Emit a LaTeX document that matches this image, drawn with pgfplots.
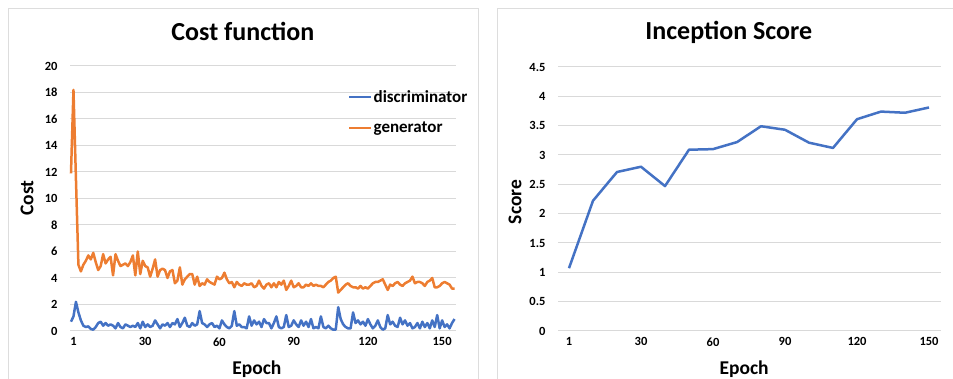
\documentclass[border=0pt]{standalone}
\usepackage{pgfplots}
\pgfplotsset{compat=1.18}
\usepackage{fontspec}
\setmainfont{Carlito}
\definecolor{xblue}{HTML}{4472C4}
\definecolor{xorange}{HTML}{ED7D31}
\definecolor{xgrid}{HTML}{D9D9D9}
\definecolor{xframe}{HTML}{DDDDDD}
\pgfplotsset{
  excel/.style={
    scale only axis,
    anchor=south west,
    axis line style={draw=none},
    major tick length=0pt,
    ymajorgrids,
    major grid style={xgrid, line width=1pt},
    /pgf/number format/assume math mode=true,
    ticklabel style={font=\fontsize{12.5}{14}\selectfont\bfseries},
    yticklabel style={xshift=-9pt},
    xticklabel style={yshift=-3pt},
    title style={font=\fontsize{26}{30}\selectfont\bfseries, anchor=center},
    label style={font=\fontsize{19.5}{22}\selectfont\bfseries},
    clip=false,
  }
}
\begin{document}
\begin{tikzpicture}[x=1pt,y=1pt]
\useasboundingbox (0,0) rectangle (953,379);
\draw[xframe, line width=1pt] (8,-10) -- (8,370) -- (478,370) -- (478,-10);
\draw[xframe, line width=1pt] (497,-10) -- (497,370) -- (975,370);
\begin{axis}[excel,
  at={(70pt,48pt)}, width=386pt, height=265pt,
  xmin=-0.4, xmax=155.6, ymin=0, ymax=20,
  ytick={0,2,...,20},
  xtick={1,30,60,90,120,150},
  title={Cost function},
  title style={at={(axis description cs:0.448,1.109)}},
  xlabel={Epoch},
  xlabel style={at={(axis description cs:0.484,-0.143)}, anchor=center},
  ylabel={Cost},
  ylabel style={at={(axis description cs:-0.111,0.502)}, anchor=center},
  legend style={at={(axis description cs:0.72,0.909)}, anchor=north west,
    draw=none, fill=none, font=\fontsize{17}{19}\selectfont\bfseries,
    row sep=18pt, inner sep=0pt, nodes={inner xsep=1pt, inner ysep=0pt}},
  legend cell align=left,
  legend image code/.code={\draw[#1, line width=2.5pt] (0pt,0pt) -- (22pt,0pt);},
]
\addplot[xblue, line width=2.5pt, line join=round] coordinates {
(0,0.7)(1,1.1)(2,2.2)(3,1.4)(4,0.8)(5,0.4)(6,0.3)(7,0.35)(8,0.15)(9,0.1)
(10,0.3)(11,0.6)(12,0.7)(13,0.4)(14,0.6)(15,0.4)(16,0.5)(17,0.4)(18,0.2)(19,0.6)
(20,0.3)(21,0.2)(22,0.5)(23,0.4)(24,0.3)(25,0.4)(26,0.3)(27,0.6)(28,0.2)(29,0.7)
(30,0.3)(31,0.5)(32,0.3)(33,0.4)(34,0.8)(35,0.5)(36,0.2)(37,0.5)(38,0.4)(39,0.6)
(40,0.3)(41,0.6)(42,0.5)(43,0.9)(44,0.3)(45,0.6)(46,1.0)(47,0.4)(48,0.3)(49,0.6)
(50,0.4)(51,0.5)(52,1.5)(53,0.6)(54,0.5)(55,0.3)(56,0.5)(57,0.6)(58,0.3)(59,0.4)
(60,0.2)(61,0.8)(62,0.5)(63,0.3)(64,0.2)(65,0.4)(66,1.5)(67,0.4)(68,0.5)(69,0.3)
(70,0.3)(71,0.2)(72,1.1)(73,0.4)(74,0.8)(75,0.5)(76,0.7)(77,0.3)(78,0.9)(79,0.6)
(80,0.6)(81,0.2)(82,0.6)(83,1.1)(84,0.3)(85,0.2)(86,0.3)(87,1.2)(88,0.3)(89,0.4)
(90,0.8)(91,0.5)(92,0.3)(93,0.8)(94,0.4)(95,0.7)(96,0.3)(97,0.9)(98,0.2)(99,0.3)
(100,0.2)(101,1.1)(102,0.3)(103,0.2)(104,0.4)(105,0.2)(106,0.1)(107,0.1)(108,1.8)(109,0.9)
(110,0.5)(111,0.3)(112,0.2)(113,0.2)(114,1.4)(115,0.6)(116,0.8)(117,0.5)(118,0.7)(119,0.4)
(120,0.9)(121,0.5)(122,0.2)(123,0.4)(124,0.8)(125,0.3)(126,0.1)(127,0.2)(128,1.2)(129,0.5)
(130,0.7)(131,0.4)(132,0.3)(133,1.0)(134,0.5)(135,0.8)(136,0.4)(137,0.6)(138,0.2)(139,0.3)
(140,0.6)(141,0.2)(142,0.7)(143,0.3)(144,0.6)(145,0.2)(146,0.8)(147,0.3)(148,1.2)(149,0.2)
(150,0.8)(151,0.3)(152,0.5)(153,0.2)(154,0.6)(155,0.9)
};
\addlegendentry{discriminator}
\addplot[xorange, line width=2.5pt, line join=round] coordinates {
(0,11.9)(1,18.2)(2,11.5)(3,5.0)(4,4.5)(5,5.0)(6,5.3)(7,5.7)(8,5.4)(9,5.9)
(10,5.2)(11,4.6)(12,4.9)(13,5.8)(14,5.1)(15,5.4)(16,5.6)(17,4.2)(18,5.8)(19,5.3)
(20,4.9)(21,5.0)(22,5.1)(23,4.9)(24,5.2)(25,5.7)(26,4.2)(27,6.0)(28,4.3)(29,5.3)
(30,4.9)(31,4.8)(32,4.1)(33,4.7)(34,5.4)(35,4.1)(36,4.6)(37,4.7)(38,4.6)(39,4.0)
(40,4.5)(41,4.6)(42,3.6)(43,3.8)(44,4.8)(45,3.5)(46,3.9)(47,4.1)(48,4.3)(49,4.3)
(50,3.5)(51,4.1)(52,3.4)(53,3.6)(54,3.5)(55,3.9)(56,3.7)(57,3.6)(58,3.5)(59,4.1)
(60,3.9)(61,4.0)(62,4.4)(63,3.9)(64,3.6)(65,3.7)(66,3.3)(67,3.7)(68,3.5)(69,3.4)
(70,3.6)(71,3.5)(72,3.5)(73,3.6)(74,3.3)(75,3.4)(76,3.8)(77,3.4)(78,3.2)(79,3.5)
(80,3.6)(81,3.3)(82,3.6)(83,3.3)(84,3.7)(85,3.5)(86,3.8)(87,3.1)(88,3.4)(89,3.8)
(90,3.3)(91,3.4)(92,3.6)(93,3.3)(94,3.3)(95,3.5)(96,3.4)(97,3.6)(98,3.4)(99,3.5)
(100,3.4)(101,3.4)(102,3.3)(103,3.5)(104,3.7)(105,3.8)(106,4.0)(107,4.1)(108,2.9)(109,3.1)
(110,3.3)(111,3.5)(112,3.6)(113,3.4)(114,3.3)(115,3.3)(116,3.2)(117,3.4)(118,3.2)(119,3.3)
(120,3.2)(121,3.4)(122,3.6)(123,3.7)(124,3.7)(125,3.8)(126,3.9)(127,3.5)(128,3.1)(129,3.5)
(130,3.4)(131,3.6)(132,3.7)(133,3.5)(134,3.4)(135,3.6)(136,3.7)(137,3.8)(138,4.1)(139,3.6)
(140,3.7)(141,3.7)(142,3.6)(143,3.4)(144,3.7)(145,3.8)(146,4.0)(147,3.3)(148,3.3)(149,3.4)
(150,3.6)(151,3.7)(152,3.6)(153,3.5)(154,3.2)(155,3.2)
};
\addlegendentry{generator}
\end{axis}
\begin{axis}[excel,
  at={(558pt,48pt)}, width=383pt, height=264pt,
  xmin=-4.58, xmax=155, ymin=0, ymax=4.5,
  ytick={0,0.5,...,4.5},
  xtick={0,30,60,90,120,150},
  xticklabels={1,30,60,90,120,150},
  title={Inception Score},
  title style={at={(axis description cs:0.446,1.109)}},
  xlabel={Epoch},
  xlabel style={at={(axis description cs:0.486,-0.143)}, anchor=center},
  ylabel={Score},
  ylabel style={at={(axis description cs:-0.112,0.489)}, anchor=center},
  yticklabel style={/pgf/number format/fixed, /pgf/number format/precision=1},
]
\addplot[xblue, line width=2.5pt, line join=round] coordinates {
(0,1.07)(10,2.22)(20,2.71)(30,2.80)(40,2.47)(50,3.09)(60,3.10)(70,3.22)
(80,3.49)(90,3.43)(100,3.21)(110,3.12)(120,3.61)(130,3.74)(140,3.72)(150,3.81)
};
\end{axis}
\end{tikzpicture}
\end{document}
